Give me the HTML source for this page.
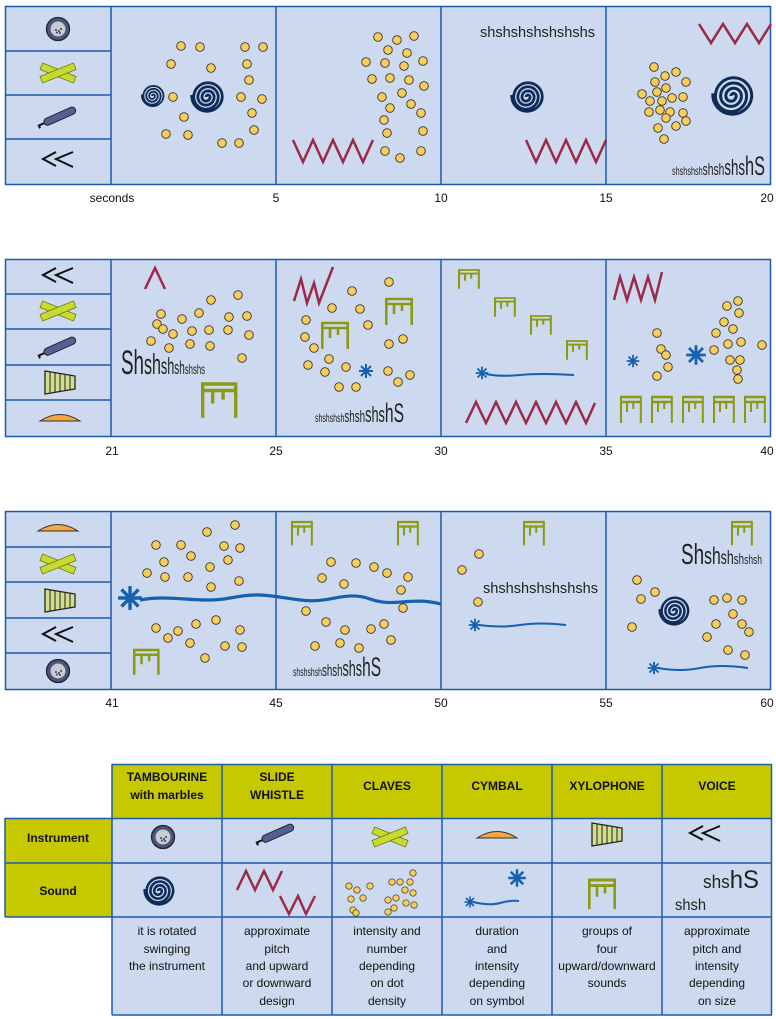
<!DOCTYPE html>
<html><head><meta charset="utf-8"><style>
html,body{margin:0;padding:0;background:#fff;}
svg{display:block;font-family:"Liberation Sans",sans-serif;}
.nx{font-family:"Liberation Sans",sans-serif;fill:#222;}
</style></head><body>
<svg width="776" height="1019" viewBox="0 0 776 1019" xmlns="http://www.w3.org/2000/svg">
<defs>
<g id="dot"><circle r="4.3" fill="#f8cd58" stroke="#333" stroke-width="0.9"/></g>
<path id="sp" d="M0 0 A2 2 0 0 1 4 0 A4 4 0 0 1 -4 0 A6 6 0 0 1 8 0 A8 8 0 0 1 -8 0 A10 10 0 0 1 12 0 A12 12 0 0 1 -12 0 A14 14 0 0 1 16 0 A15 15 0 0 1 -14 -2" fill="none" stroke="#0f2c58"/>
<g id="br" fill="none" stroke="#8c9a10" stroke-width="2.6"><path d="M0 0 H28 M0 5 H28 M1.3 0 V26 M26.7 0 V26 M9 5 V15 M17 5 V12"/></g>
<g id="st" stroke="#1560b0" stroke-width="2"><path d="M-7 0 H7 M0 -7 V7 M-5 -5 L5 5 M-5 5 L5 -5"/></g>
<g id="tamb"><circle r="11.5" fill="#4d5577" stroke="#1c2238" stroke-width="1.3"/><circle r="7.5" fill="#c9cbd3"/><circle cx="-2" cy="1" r="1" fill="#345"/><circle cx="1" cy="2" r="1" fill="#345"/><circle cx="3" cy="0" r="1" fill="#345"/><circle cx="-1" cy="3.5" r="1" fill="#345"/><circle cx="2" cy="4" r="1" fill="#345"/></g>
<g id="clv"><rect x="-18" y="-3.5" width="36" height="7" fill="#c8da30" stroke="#6a7a10" stroke-width="0.8" transform="rotate(22)"/><rect x="-18" y="-3.5" width="36" height="7" fill="#c8da30" stroke="#6a7a10" stroke-width="0.8" transform="rotate(-22)"/></g>
<g id="wh"><g transform="rotate(-24)"><rect x="-15" y="-3.6" width="34" height="7.2" rx="3.6" fill="#55608f" stroke="#1c2238" stroke-width="1"/><path d="M-15 0 H-21 V3" stroke="#111" stroke-width="2" fill="none"/></g></g>
<g id="vc" stroke="#111" stroke-width="2" fill="none"><path d="M-2 -9 L-15 -2 L-2 5 M15 -9 L-2 -2 L15 6"/></g>
<g id="xy"><path d="M-15 -11 L15 -6 L15 7 L-15 12 Z" fill="#d3de8c" stroke="#222" stroke-width="1.3"/><path d="M-10 -10 V11 M-5 -9 V10 M0 -8.5 V9.5 M5 -7.5 V8.5 M10 -7 V8" stroke="#222" stroke-width="1"/></g>
<g id="cy"><path d="M-20 3 Q0 -10 20 3 Z" fill="#f5a542" stroke="#333" stroke-width="1"/></g>
</defs>

<!-- ROW 1 -->
<g>
<rect x="5.5" y="6.5" width="765" height="178" fill="#cdd9ee" stroke="#1c5cae" stroke-width="1.5"/>
<path d="M111 6 V184 M276 6 V184 M441 6 V184 M606 6 V184 M5 51 H111 M5 95 H111 M5 139 H111" stroke="#1c5cae" stroke-width="1.5"/>
<use href="#tamb" x="58" y="29"/><use href="#clv" x="58" y="73"/><use href="#wh" x="58" y="117"/><use href="#vc" x="58" y="161"/>
<g fill="#111" font-size="12" text-anchor="middle"><text x="112" y="202">seconds</text><text x="276" y="202">5</text><text x="441" y="202">10</text><text x="606" y="202">15</text><text x="767" y="202">20</text></g>
<use href="#sp" transform="translate(152,96) scale(0.72)" stroke-width="2.5"/>
<use href="#sp" transform="translate(206,97) scale(1.02)" stroke-width="2.7"/>
<g>
<use href="#dot" x="181" y="46"/><use href="#dot" x="200" y="47"/><use href="#dot" x="171" y="64"/><use href="#dot" x="211" y="68"/><use href="#dot" x="245" y="47"/><use href="#dot" x="263" y="47"/><use href="#dot" x="247" y="64"/><use href="#dot" x="249" y="80"/><use href="#dot" x="173" y="97"/><use href="#dot" x="241" y="97"/><use href="#dot" x="262" y="99"/><use href="#dot" x="184" y="117"/><use href="#dot" x="252" y="113"/><use href="#dot" x="166" y="134"/><use href="#dot" x="188" y="135"/><use href="#dot" x="222" y="143"/><use href="#dot" x="239" y="143"/><use href="#dot" x="254" y="130"/>
<use href="#dot" x="378" y="37"/><use href="#dot" x="397" y="40"/><use href="#dot" x="414" y="36"/><use href="#dot" x="388" y="50"/><use href="#dot" x="407" y="53"/><use href="#dot" x="366" y="62"/><use href="#dot" x="385" y="63"/><use href="#dot" x="404" y="66"/><use href="#dot" x="423" y="61"/><use href="#dot" x="372" y="79"/><use href="#dot" x="390" y="78"/><use href="#dot" x="409" y="80"/><use href="#dot" x="424" y="86"/><use href="#dot" x="382" y="97"/><use href="#dot" x="402" y="93"/><use href="#dot" x="390" y="108"/><use href="#dot" x="411" y="104"/><use href="#dot" x="384" y="120"/><use href="#dot" x="421" y="113"/><use href="#dot" x="387" y="133"/><use href="#dot" x="423" y="131"/><use href="#dot" x="421" y="151"/><use href="#dot" x="400" y="158"/><use href="#dot" x="385" y="151"/>
<use href="#dot" x="654" y="67"/><use href="#dot" x="665" y="76"/><use href="#dot" x="676" y="72"/><use href="#dot" x="655" y="82"/><use href="#dot" x="686" y="82"/><use href="#dot" x="657" y="92"/><use href="#dot" x="666" y="88"/><use href="#dot" x="642" y="94"/><use href="#dot" x="650" y="101"/><use href="#dot" x="662" y="101"/><use href="#dot" x="672" y="98"/><use href="#dot" x="683" y="97"/><use href="#dot" x="649" y="112"/><use href="#dot" x="660" y="110"/><use href="#dot" x="670" y="112"/><use href="#dot" x="683" y="113"/><use href="#dot" x="666" y="118"/><use href="#dot" x="686" y="121"/><use href="#dot" x="658" y="128"/><use href="#dot" x="676" y="126"/><use href="#dot" x="664" y="139"/>
</g>
<g fill="none" stroke="#9b2a48" stroke-width="2.5">
<path d="M293 140 L303 162 L313 140 L323 162 L333 140 L343 162 L353 140 L363 162 L373 140"/>
<path d="M526 140 L536 162 L546 140 L556 162 L566 140 L576 162 L586 140 L596 162 L606 140"/>
<path d="M699 24 L711 43 L723 24 L735 43 L747 24 L759 43 L771 24"/>
</g>
<text x="480" y="37" font-size="15" fill="#222" textLength="115" lengthAdjust="spacingAndGlyphs">shshshshshshshs</text>
<use href="#sp" transform="translate(526,97) scale(1.02)" stroke-width="2.7"/>
<use href="#sp" transform="translate(731,96) scale(1.3)" stroke-width="2.3"/>
<text class="nx" x="672" y="175" textLength="93" lengthAdjust="spacingAndGlyphs"><tspan font-size="12">shshshsh</tspan><tspan font-size="17">shsh</tspan><tspan font-size="22">shs</tspan><tspan font-size="27">hS</tspan></text>
</g>

<!-- ROW 2 -->
<g>
<rect x="5.5" y="259.5" width="765" height="177" fill="#cdd9ee" stroke="#1c5cae" stroke-width="1.5"/>
<path d="M111 259 V436 M276 259 V436 M441 259 V436 M606 259 V436 M5 294 H111 M5 329 H111 M5 365 H111 M5 400 H111" stroke="#1c5cae" stroke-width="1.5"/>
<use href="#vc" x="58" y="277"/><use href="#clv" x="58" y="311"/><use href="#wh" x="58" y="347"/><use href="#xy" x="60" y="382"/><use href="#cy" x="60" y="418"/>
<g fill="#111" font-size="12" text-anchor="middle"><text x="112" y="455">21</text><text x="276" y="455">25</text><text x="441" y="455">30</text><text x="606" y="455">35</text><text x="767" y="455">40</text></g>
<g fill="none" stroke="#9b2a48" stroke-width="2.5">
<path d="M145 289 L155 268 L165 289"/>
<path d="M294 301 L301 279 L307 303 L314 283 L319 303 L333 267"/>
<path d="M466 423 L476 402 L486 423 L496 402 L506 423 L516 402 L526 423 L536 402 L546 423 L556 402 L566 423 L576 402 L586 423 L595 403"/>
<path d="M614 300 L620 277 L627 300 L634 277 L641 300 L648 277 L655 300 L662 272"/>
</g>
<g>
<use href="#dot" x="161" y="314"/><use href="#dot" x="157" y="324"/><use href="#dot" x="163" y="329"/><use href="#dot" x="151" y="341"/><use href="#dot" x="169" y="348"/><use href="#dot" x="182" y="319"/><use href="#dot" x="173" y="334"/><use href="#dot" x="199" y="313"/><use href="#dot" x="192" y="331"/><use href="#dot" x="211" y="300"/><use href="#dot" x="238" y="295"/><use href="#dot" x="229" y="317"/><use href="#dot" x="247" y="316"/><use href="#dot" x="209" y="330"/><use href="#dot" x="228" y="330"/><use href="#dot" x="249" y="335"/><use href="#dot" x="190" y="344"/><use href="#dot" x="210" y="346"/><use href="#dot" x="242" y="358"/>
<use href="#dot" x="389" y="282"/><use href="#dot" x="352" y="291"/><use href="#dot" x="332" y="308"/><use href="#dot" x="360" y="309"/><use href="#dot" x="306" y="320"/><use href="#dot" x="368" y="325"/><use href="#dot" x="305" y="337"/><use href="#dot" x="314" y="348"/><use href="#dot" x="389" y="344"/><use href="#dot" x="403" y="339"/><use href="#dot" x="329" y="359"/><use href="#dot" x="308" y="365"/><use href="#dot" x="346" y="367"/><use href="#dot" x="325" y="372"/><use href="#dot" x="388" y="371"/><use href="#dot" x="398" y="382"/><use href="#dot" x="410" y="375"/><use href="#dot" x="339" y="387"/><use href="#dot" x="356" y="387"/>
<use href="#dot" x="738" y="301"/><use href="#dot" x="727" y="306"/><use href="#dot" x="739" y="313"/><use href="#dot" x="724" y="322"/><use href="#dot" x="733" y="329"/><use href="#dot" x="716" y="333"/><use href="#dot" x="741" y="342"/><use href="#dot" x="728" y="344"/><use href="#dot" x="714" y="350"/><use href="#dot" x="657" y="333"/><use href="#dot" x="661" y="349"/><use href="#dot" x="666" y="355"/><use href="#dot" x="657" y="376"/><use href="#dot" x="730" y="360"/><use href="#dot" x="740" y="360"/><use href="#dot" x="737" y="370"/><use href="#dot" x="738" y="379"/><use href="#dot" x="762" y="345"/><use href="#dot" x="668" y="367"/>
</g>
<text class="nx" x="121" y="374" textLength="84" lengthAdjust="spacingAndGlyphs"><tspan font-size="34">Sh</tspan><tspan font-size="29">sh</tspan><tspan font-size="23">sh</tspan><tspan font-size="18">sh</tspan><tspan font-size="14">shshs</tspan></text>
<use href="#br" transform="translate(201,384) scale(1.3,1.3)"/>
<use href="#br" x="321" y="323"/><use href="#br" x="385" y="299"/>
<use href="#st" x="366" y="371"/>
<text class="nx" x="315" y="422" textLength="89" lengthAdjust="spacingAndGlyphs"><tspan font-size="12">shshshsh</tspan><tspan font-size="17">shsh</tspan><tspan font-size="22">shs</tspan><tspan font-size="27">hS</tspan></text>
<use href="#br" transform="translate(458,270) scale(0.78,0.72)"/><use href="#br" transform="translate(494,298) scale(0.78,0.72)"/><use href="#br" transform="translate(530,316) scale(0.78,0.72)"/><use href="#br" transform="translate(566,341) scale(0.78,0.72)"/>
<use href="#st" transform="translate(482,373) scale(0.9)"/>
<path d="M486 374 Q500 377 520 375 T574 375" fill="none" stroke="#1560b0" stroke-width="2"/>
<use href="#st" transform="translate(633,361) scale(0.9)"/>
<use href="#st" transform="translate(696,355) scale(1.4)"/>
<use href="#br" transform="translate(620,397) scale(0.78,1)"/><use href="#br" transform="translate(651,397) scale(0.78,1)"/><use href="#br" transform="translate(682,397) scale(0.78,1)"/><use href="#br" transform="translate(713,397) scale(0.78,1)"/><use href="#br" transform="translate(744,397) scale(0.78,1)"/>
</g>

<!-- ROW 3 -->
<g>
<rect x="5.5" y="511.5" width="765" height="178" fill="#cdd9ee" stroke="#1c5cae" stroke-width="1.5"/>
<path d="M111 511 V689 M276 511 V689 M441 511 V689 M606 511 V689 M5 547 H111 M5 582 H111 M5 618 H111 M5 653 H111" stroke="#1c5cae" stroke-width="1.5"/>
<use href="#cy" x="58" y="528"/><use href="#clv" x="58" y="564"/><use href="#xy" x="60" y="600"/><use href="#vc" x="58" y="636"/><use href="#tamb" x="58" y="671"/>
<g fill="#111" font-size="12" text-anchor="middle"><text x="112" y="707">41</text><text x="276" y="707">45</text><text x="441" y="707">50</text><text x="606" y="707">55</text><text x="767" y="707">60</text></g>
<path d="M140 600 C170 594 200 604 230 598 S270 596 300 600 S345 590 370 599 S410 596 441 604" fill="none" stroke="#1560b0" stroke-width="3.2"/>
<g transform="translate(130,598) scale(1.7)"><use href="#st"/></g>
<g>
<use href="#dot" x="235" y="525"/><use href="#dot" x="207" y="532"/><use href="#dot" x="156" y="545"/><use href="#dot" x="181" y="545"/><use href="#dot" x="224" y="546"/><use href="#dot" x="240" y="548"/><use href="#dot" x="164" y="562"/><use href="#dot" x="191" y="556"/><use href="#dot" x="210" y="567"/><use href="#dot" x="228" y="560"/><use href="#dot" x="147" y="573"/><use href="#dot" x="165" y="577"/><use href="#dot" x="188" y="577"/><use href="#dot" x="211" y="587"/><use href="#dot" x="239" y="581"/><use href="#dot" x="156" y="628"/><use href="#dot" x="178" y="631"/><use href="#dot" x="196" y="624"/><use href="#dot" x="216" y="620"/><use href="#dot" x="240" y="630"/><use href="#dot" x="225" y="646"/><use href="#dot" x="190" y="643"/><use href="#dot" x="168" y="638"/><use href="#dot" x="205" y="658"/><use href="#dot" x="242" y="647"/>
<use href="#dot" x="331" y="562"/><use href="#dot" x="356" y="563"/><use href="#dot" x="374" y="567"/><use href="#dot" x="387" y="573"/><use href="#dot" x="408" y="577"/><use href="#dot" x="322" y="578"/><use href="#dot" x="344" y="584"/><use href="#dot" x="401" y="590"/><use href="#dot" x="306" y="611"/><use href="#dot" x="326" y="622"/><use href="#dot" x="345" y="630"/><use href="#dot" x="371" y="629"/><use href="#dot" x="384" y="624"/><use href="#dot" x="391" y="640"/><use href="#dot" x="403" y="608"/><use href="#dot" x="315" y="646"/><use href="#dot" x="340" y="643"/><use href="#dot" x="359" y="648"/>
<use href="#dot" x="462" y="570"/><use href="#dot" x="479" y="554"/><use href="#dot" x="478" y="602"/>
<use href="#dot" x="637" y="580"/><use href="#dot" x="641" y="599"/><use href="#dot" x="655" y="592"/><use href="#dot" x="632" y="627"/><use href="#dot" x="714" y="600"/><use href="#dot" x="727" y="598"/><use href="#dot" x="742" y="600"/><use href="#dot" x="733" y="614"/><use href="#dot" x="716" y="624"/><use href="#dot" x="707" y="637"/><use href="#dot" x="742" y="624"/><use href="#dot" x="749" y="632"/><use href="#dot" x="728" y="650"/><use href="#dot" x="745" y="655"/>
</g>
<use href="#br" transform="translate(133,650) scale(0.95)"/>
<use href="#br" transform="translate(291,522) scale(0.78,0.9)"/><use href="#br" transform="translate(397,522) scale(0.78,0.9)"/>
<text class="nx" x="293" y="676" textLength="88" lengthAdjust="spacingAndGlyphs"><tspan font-size="12">shshshsh</tspan><tspan font-size="17">shsh</tspan><tspan font-size="22">shs</tspan><tspan font-size="27">hS</tspan></text>
<use href="#br" transform="translate(523,522) scale(0.78,0.9)"/>
<text x="483" y="593" font-size="15" fill="#222" textLength="115" lengthAdjust="spacingAndGlyphs">shshshshshshshs</text>
<use href="#st" transform="translate(475,625) scale(0.9)"/>
<path d="M479 625 Q500 628 520 625 T566 625" fill="none" stroke="#1560b0" stroke-width="2"/>
<text class="nx" x="681" y="564" textLength="81" lengthAdjust="spacingAndGlyphs"><tspan font-size="29">Sh</tspan><tspan font-size="24">sh</tspan><tspan font-size="19">sh</tspan><tspan font-size="15">sh</tspan><tspan font-size="13">shsh</tspan></text>
<use href="#br" transform="translate(731,522) scale(0.78,0.9)"/>
<use href="#sp" transform="translate(673,611) scale(0.95)" stroke-width="2.6"/>
<use href="#st" transform="translate(654,668) scale(0.9)"/>
<path d="M658 668 Q680 672 700 668 T748 668" fill="none" stroke="#1560b0" stroke-width="2"/>
</g>

<!-- TABLE -->
<g>
<rect x="112" y="764" width="660" height="54" fill="#c6c800"/>
<rect x="5" y="818" width="107" height="99" fill="#c6c800"/>
<rect x="112" y="818" width="660" height="197" fill="#cdd9ee"/>
<g stroke="#1c5cae" stroke-width="1.5" fill="none">
<path d="M112 764.5 H772 M5 818.5 H772 M5 863 H772 M5 917 H772 M112 1015 H772 M5 818 V917 M112 764 V1015 M222 764 V1015 M332 764 V1015 M442 764 V1015 M552 764 V1015 M662 764 V1015 M771.5 764 V1015"/>
</g>
<g font-size="12" font-weight="bold" fill="#111" text-anchor="middle">
<text x="167" y="781">TAMBOURINE</text><text x="167" y="799">with marbles</text>
<text x="277" y="781">SLIDE</text><text x="277" y="799">WHISTLE</text>
<text x="387" y="790">CLAVES</text><text x="497" y="790">CYMBAL</text><text x="607" y="790">XYLOPHONE</text><text x="717" y="790">VOICE</text>
<text x="58" y="842">Instrument</text><text x="58" y="895">Sound</text>
</g>
<use href="#tamb" x="163" y="837"/>
<use href="#wh" x="276" y="834"/>
<use href="#clv" x="390" y="837"/>
<use href="#cy" x="497" y="835"/>
<use href="#xy" x="607" y="834"/>
<use href="#vc" x="705" y="835"/>
<use href="#sp" transform="translate(158,891) scale(0.95)" stroke-width="2.7"/>
<path d="M237 890 L246 871 L255 890 L264 871 L273 890 L282 871 M280 896 L289 914 L298 896 L306 914 L315 896" fill="none" stroke="#9b2a48" stroke-width="2.5"/>
<g>
<use href="#dot" transform="translate(349,886) scale(0.75)"/><use href="#dot" transform="translate(357,890) scale(0.75)"/><use href="#dot" transform="translate(370,886) scale(0.75)"/><use href="#dot" transform="translate(351,899) scale(0.75)"/><use href="#dot" transform="translate(363,898) scale(0.75)"/><use href="#dot" transform="translate(353,910) scale(0.75)"/><use href="#dot" transform="translate(356,913) scale(0.75)"/>
<use href="#dot" transform="translate(392,882) scale(0.75)"/><use href="#dot" transform="translate(400,882) scale(0.75)"/><use href="#dot" transform="translate(413,873) scale(0.75)"/><use href="#dot" transform="translate(410,882) scale(0.75)"/><use href="#dot" transform="translate(405,890) scale(0.75)"/><use href="#dot" transform="translate(413,893) scale(0.75)"/><use href="#dot" transform="translate(388,900) scale(0.75)"/><use href="#dot" transform="translate(396,898) scale(0.75)"/><use href="#dot" transform="translate(394,908) scale(0.75)"/><use href="#dot" transform="translate(406,903) scale(0.75)"/><use href="#dot" transform="translate(414,905) scale(0.75)"/><use href="#dot" transform="translate(388,912) scale(0.75)"/>
</g>
<use href="#st" transform="translate(517,878) scale(1.25)"/>
<use href="#st" transform="translate(470,902) scale(0.8)"/>
<path d="M473 902 Q490 906 500 903 T519 901" fill="none" stroke="#1560b0" stroke-width="2"/>
<use href="#br" transform="translate(588,880) scale(1,1.12)"/>
<text class="nx" x="703" y="888" textLength="56" lengthAdjust="spacingAndGlyphs"><tspan font-size="18">shs</tspan><tspan font-size="25">hS</tspan></text>
<text class="nx" x="675" y="910" font-size="16" textLength="31" lengthAdjust="spacingAndGlyphs">shsh</text>
<g font-size="12" fill="#111" text-anchor="middle">
<text x="167" y="935">it is rotated</text><text x="167" y="953">swinging</text><text x="167" y="970">the instrument</text>
<text x="277" y="935">approximate</text><text x="277" y="953">pitch</text><text x="277" y="970">and upward</text><text x="277" y="987">or downward</text><text x="277" y="1005">design</text>
<text x="387" y="935">intensity and</text><text x="387" y="953">number</text><text x="387" y="970">depending</text><text x="387" y="987">on dot</text><text x="387" y="1005">density</text>
<text x="497" y="935">duration</text><text x="497" y="953">and</text><text x="497" y="970">intensity</text><text x="497" y="987">depending</text><text x="497" y="1005">on symbol</text>
<text x="607" y="935">groups of</text><text x="607" y="953">four</text><text x="607" y="970">upward/downward</text><text x="607" y="987">sounds</text>
<text x="717" y="935">approximate</text><text x="717" y="953">pitch and</text><text x="717" y="970">intensity</text><text x="717" y="987">depending</text><text x="717" y="1005">on size</text>
</g>
</g>
</svg>
</body></html>
